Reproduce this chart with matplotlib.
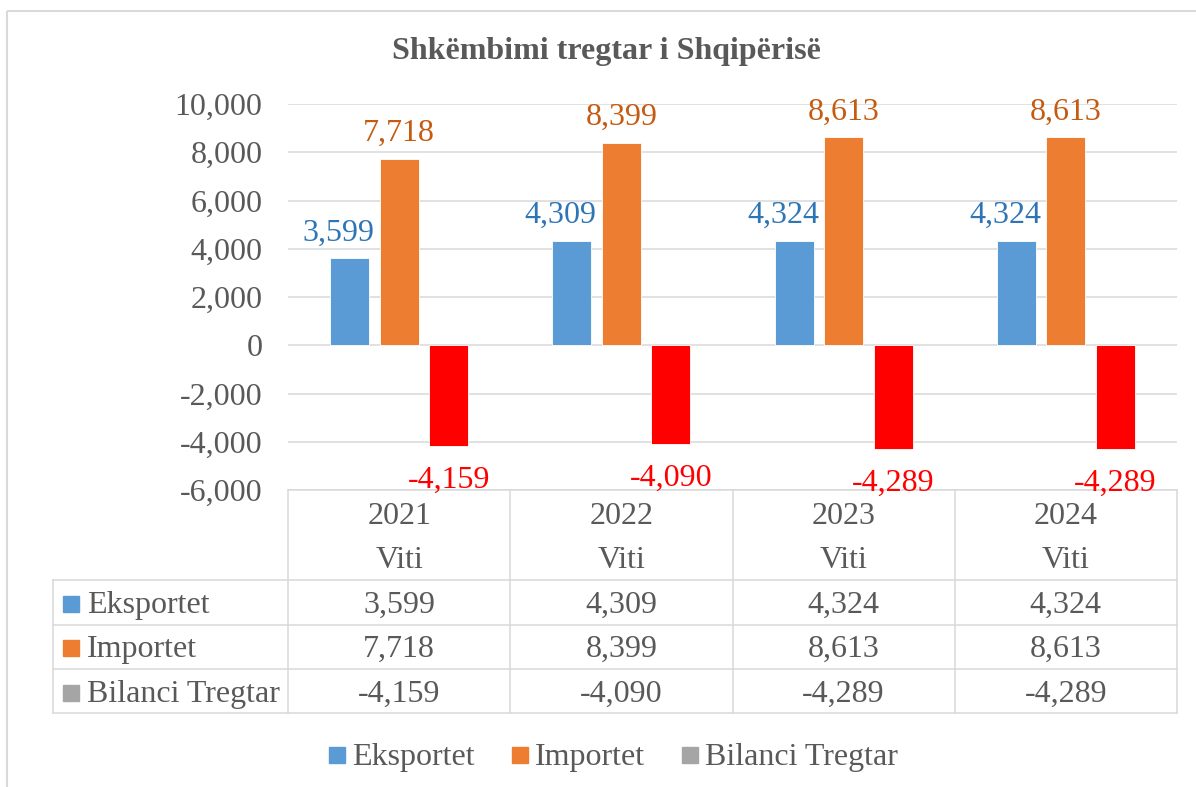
import matplotlib
matplotlib.use("Agg")
import matplotlib.pyplot as plt
from matplotlib.ticker import FuncFormatter
from matplotlib.patches import Rectangle
from matplotlib.lines import Line2D

# ---- data ----
years = ["2021", "2022", "2023", "2024"]
year_sub = "Viti"
series_names = ["Eksportet", "Importet", "Bilanci Tregtar"]
eksportet = [3599, 4309, 4324, 4324]
importet = [7718, 8399, 8613, 8613]
bilanci = [-4159, -4090, -4289, -4289]
title = "Shkëmbimi tregtar i Shqipërisë"
yticks = [-6000, -4000, -2000, 0, 2000, 4000, 6000, 8000, 10000]

# ---- style ----
W, H = 1196, 787
FONT = "Liberation Serif"
FS = 23
TXT = "#595959"
GRID = "#D9D9D9"
bar_colors = ["#5B9BD5", "#ED7D31", "#FF0000"]
legend_colors = ["#5B9BD5", "#ED7D31", "#A5A5A5"]
label_colors = ["#2E75B6", "#C55A11", "#FF0000"]

plt.rcParams["font.family"] = [FONT, "DejaVu Serif"]

fig = plt.figure(figsize=(W / 100, H / 100), dpi=100)
fig.patch.set_facecolor("white")

# overlay in pixel coordinates (y down)
ov = fig.add_axes([0, 0, 1, 1], zorder=0)
ov.set_xlim(0, W)
ov.set_ylim(H, 0)
ov.axis("off")

L, R, T, B = 288, 1177, 104, 490
ax = fig.add_axes([L / W, (H - B) / H, (R - L) / W, (B - T) / H], zorder=1)
ax.set_facecolor("none")
ax.set_xlim(-0.5, 3.5)
ax.set_ylim(-6000, 10000)
ax.set_yticks(yticks)
ax.yaxis.set_major_formatter(FuncFormatter(lambda v, p: f"{int(v):,}"))
ax.tick_params(axis="y", length=0, pad=18.5, labelsize=FS, labelcolor=TXT)
ax.set_xticks([])
for s in ax.spines.values():
    s.set_visible(False)
ax.grid(axis="y", color=GRID, linewidth=1.1)
ax.set_axisbelow(True)

x = list(range(len(years)))
width = 0.176
offs = [-0.223, 0.0, 0.223]
data = [eksportet, importet, bilanci]
for k, vals in enumerate(data):
    xs = [xi + offs[k] for xi in x]
    bars = ax.bar(xs, vals, width=width, color=bar_colors[k],
                  edgecolor="white", linewidth=0.6, zorder=2)
    for b, v in zip(bars, vals):
        cx = b.get_x() + b.get_width() / 2
        dx = -11 if k == 0 else 0
        dy = 18 if v >= 0 else -42
        ax.annotate(f"{v:,}", (cx, v), xytext=(dx, dy), textcoords="offset pixels",
                    ha="center", va="baseline", fontsize=FS,
                    color=label_colors[k], zorder=3, annotation_clip=False)

# title
ov.text(606, 59, title, ha="center", va="baseline", fontsize=FS,
        fontweight="bold", color=TXT)

# outer border (only left/top visible)
ov.add_patch(Rectangle((7, 11), W + 20, H + 20, fill=False, edgecolor=GRID, linewidth=1.5))

# ---- data table ----
fig.canvas.draw()
def px(xd):
    return ax.transData.transform((xd, 0))[0]

col_edges = [px(xi - 0.5) for xi in x] + [px(x[-1] + 0.5)]
left_edge = 53
y_top, rows_y = B, [580, 625, 669, 713]
lw = 1.1
def ln(x0, x1, y0, y1):
    ov.add_line(Line2D([x0, x1], [y0, y1], color=GRID, linewidth=lw))

ln(col_edges[0], col_edges[-1], y_top, y_top)
for yy in rows_y:
    ln(left_edge, col_edges[-1], yy, yy)
for ce in col_edges:
    ln(ce, ce, y_top, rows_y[-1])
ln(left_edge, left_edge, rows_y[0], rows_y[-1])

for i, yr in enumerate(years):
    cx = (col_edges[i] + col_edges[i + 1]) / 2
    ov.text(cx, 524, yr, ha="center", va="baseline", fontsize=FS, color=TXT)
    ov.text(cx, 568, year_sub, ha="center", va="baseline", fontsize=FS, color=TXT)

row_base = [613, 657, 702]
for r, (name, vals) in enumerate(zip(series_names, data)):
    yb = row_base[r]
    ov.add_patch(Rectangle((63, yb - 17), 16, 16, color=legend_colors[r]))
    ov.text(87, yb, name, ha="left", va="baseline", fontsize=FS, color=TXT)
    for i, v in enumerate(vals):
        cx = (col_edges[i] + col_edges[i + 1]) / 2
        ov.text(cx, yb, f"{v:,}", ha="center", va="baseline", fontsize=FS, color=TXT)

# ---- bottom legend ----
renderer = fig.canvas.get_renderer()
lx = 329
ly = 765
for name, col in zip(series_names, legend_colors):
    ov.add_patch(Rectangle((lx, ly - 18), 16, 16, color=col))
    t = ov.text(lx + 23, ly, name, ha="left", va="baseline", fontsize=FS, color=TXT)
    bb = t.get_window_extent(renderer=renderer)
    lx = lx + 23 + bb.width + 37

fig.savefig("out.png", dpi=100, facecolor="white")
